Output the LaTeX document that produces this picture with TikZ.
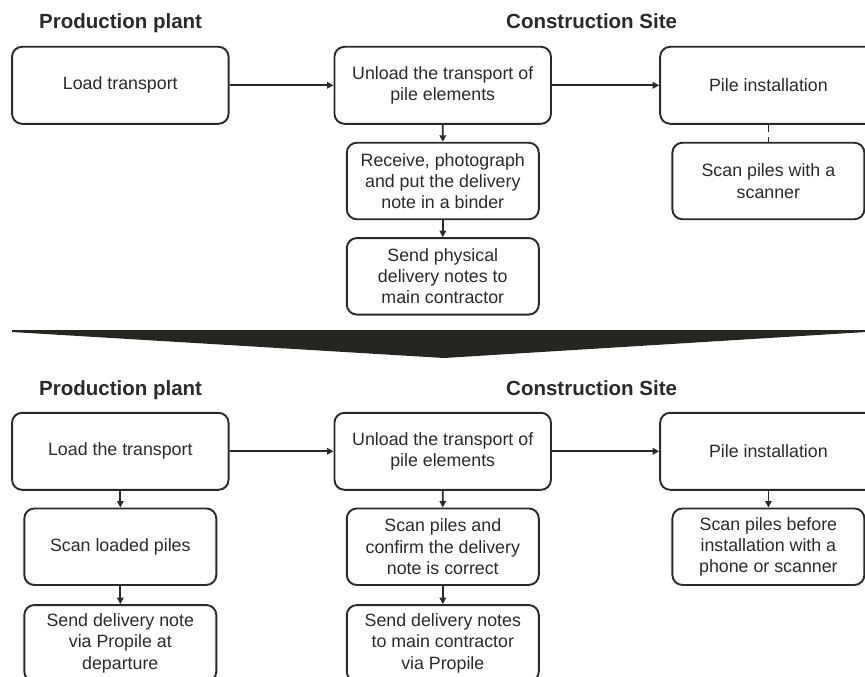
\documentclass[tikz,border=0pt]{standalone}
\usepackage{fontspec}
\setmainfont{Liberation Sans}
\usetikzlibrary{arrows.meta}
\definecolor{ink}{HTML}{2A2A28}
\definecolor{bar}{HTML}{262621}
\begin{document}
\begin{tikzpicture}[x=1pt,y=1pt,
  every node/.style={text=ink},
  stepbox/.style={draw=ink, line width=1.9pt, rounded corners=10pt, align=center,
    font=\fontsize{17.8}{21.3}\selectfont, inner sep=0pt},
  wide/.style={stepbox, minimum width=216.5pt, minimum height=77pt},
  narrow/.style={stepbox, minimum width=192pt, minimum height=76.5pt},
  heading/.style={font=\fontsize{20.5}{24}\selectfont\bfseries, anchor=base west, inner sep=0pt},
  flow/.style={draw=ink, line width=1.7pt, -{Triangle[length=6.5pt,width=6.5pt]}},
  link/.style={draw=ink, line width=1.7pt, dash pattern=on 7pt off 5pt}]
\useasboundingbox (0,0) rectangle (865,-677);
\clip (0,0) rectangle (865,-677);

% ---------- current process ----------
\node[heading] (hp1) at (39,-28.3) {Production plant};
\node[heading] (hc1) at (506,-28.3) {Construction Site};

\node[wide] (load1)   at (120.3,-85.3) {Load transport};
\node[wide] (unload1) at (442.7,-85.3) {Unload the transport of\\pile elements};
\node[wide] (pile1)   at (768.4,-85.3) {Pile installation};
\node[narrow] (recv1) at (442.8,-181) {Receive, photograph\\and put the delivery\\note in a binder};
\node[narrow] (send1) at (442.8,-276.3) {Send physical\\delivery notes to\\main contractor};
\node[narrow] (scan1) at (768.4,-181) {Scan piles with a\\scanner};

\draw[flow] (load1.east) -- (unload1.west);
\draw[flow] (unload1.east) -- (pile1.west);
\draw[flow] (unload1.south) -- (recv1.north);
\draw[flow] (recv1.south) -- (send1.north);
\draw[link] (pile1.south) -- (scan1.north);

% ---------- transition ----------
\coordinate (barL) at (12,-330);
\coordinate (barR) at (866,-330);
\coordinate (barTip) at (444,-358);
\fill[bar] (barL) -- (barR) -- ++(0,-2) -- (barTip) -- (12,-332) -- cycle;

% ---------- new process ----------
\node[heading] (hp2) at (39,-395) {Production plant};
\node[heading] (hc2) at (506,-395) {Construction Site};

\node[wide] (load2)   at (120.3,-451.3) {Load the transport};
\node[wide] (unload2) at (442.7,-451.3) {Unload the transport of\\pile elements};
\node[wide] (pile2)   at (768.4,-451.3) {Pile installation};
\node[narrow] (scanL2) at (120.3,-546.7) {Scan loaded piles};
\node[narrow] (sendL2) at (120.3,-643.3) {Send delivery note\\via Propile at\\departure};
\node[narrow] (scanC2) at (442.8,-546.7) {Scan piles and\\confirm the delivery\\note is correct};
\node[narrow] (sendC2) at (442.8,-643.3) {Send delivery notes\\to main contractor\\via Propile};
\node[narrow] (scanR2) at (768.4,-546.7) {Scan piles before\\installation with a\\phone or scanner};

\draw[flow] (load2.east) -- (unload2.west);
\draw[flow] (unload2.east) -- (pile2.west);
\draw[flow] (load2.south) -- (scanL2.north);
\draw[flow] (scanL2.south) -- (sendL2.north);
\draw[flow] (unload2.south) -- (scanC2.north);
\draw[flow] (scanC2.south) -- (sendC2.north);
\draw[flow] (pile2.south) -- (scanR2.north);
\end{tikzpicture}
\end{document}
